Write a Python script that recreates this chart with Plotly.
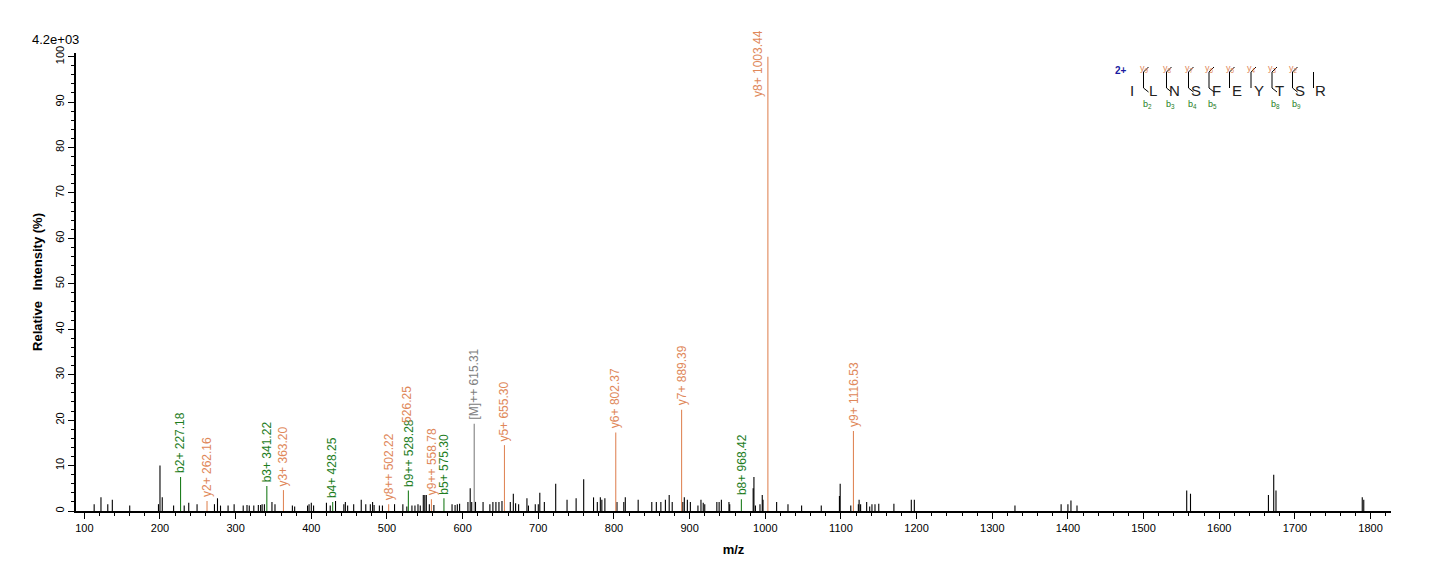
import plotly.graph_objects as go

# annotated ions
ion_mz = [227.18, 262.16, 341.22, 363.20, 428.25, 502.22, 528.28, 558.78, 575.30, 615.31, 655.30, 802.37, 889.39, 968.42, 1003.44, 1116.53]
ion_int = [7.5, 2.2, 5.5, 4.6, 2.0, 1.5, 4.5, 2.6, 2.8, 19.2, 14.5, 17.3, 22.3, 2.6, 100, 17.6]
ion_lab = ["b2+ 227.18", "y2+ 262.16", "b3+ 341.22", "y3+ 363.20", "b4+ 428.25", "y8++ 502.22", "b9++ 528.28", "y9++ 558.78", "b5+ 575.30", "[M]++ 615.31", "y5+ 655.30", "y6+ 802.37", "y7+ 889.39", "b8+ 968.42", "y8+ 1003.44", "y9+ 1116.53"]
ion_kind = ["b", "y", "b", "y", "b", "y", "b", "y", "b", "m", "y", "y", "y", "b", "y", "y"]

# unannotated peaks
noise_mz = [113,122,131,137,160,198,200,203,218,232,238,249,272,276,280,290,298,310,315,318,324,330,333,335,338,348,352,375,378,395,397,400,403,420,425,432,443,445,448,456,466,472,478,481,483,490,494,510,521,526.25,533,537,541,544,548,550,552,556,562,586,590,593,596,607,610,612,617,627,636,640,644,648,652,663,667,670,674,685,687,696,700,702,708,723,738,750,760,773,778,782,784,788,804,813,815,832,850,856,862,868,873,877,891,893,897,901,911,915,918,920,936,939,942,952,953,984,985,987,993,996,997,1015,1030,1048,1074,1098,1099,1113,1123,1124,1126,1134,1138,1141,1145,1150,1170,1193,1197,1330,1391,1400,1404,1412,1557,1562,1665,1672,1675,1789,1791]
noise_int = [1.5,3,1.5,2.5,1.2,1.5,10,3,1.2,1.2,1.8,1.5,1.5,2.8,1.2,1.2,1.5,1.2,1.3,1.2,1.2,1.3,1.3,1.5,1.5,2,1.5,1.2,1,1.2,1.5,1.8,1.2,1.8,1.2,2.2,1.5,2,1.2,1.5,2.5,1.5,1.5,2,1.3,1.2,1.2,1.5,1.5,1,1.2,1.2,1.5,1.2,3.5,3.5,3.5,1.5,1.3,1.5,1.3,1.5,1.6,2,5,2,2,2,1.5,2,2,2,2.2,2,3.8,1.7,1.5,2.8,1.2,1.5,1.5,4,2,6,2.5,2.8,7,3,2,3,2.5,2.8,2,2,3,2.5,2,2,2,2.5,3.5,2,2,3,2.5,2,1.2,2.5,1.8,1.5,2,2,2.5,2,1.5,5,7.5,1.2,1.5,3.5,2.5,2,1.5,1.2,1.2,3.3,6,1.2,1.5,2.5,1.5,2,1,1.5,1.5,1.6,1.6,2.5,2.5,1.2,1.5,1.5,2.3,1.2,4.5,3.8,3.5,8,4.5,3,2.5]

sequence = ["I", "L", "N", "S", "F", "E", "Y", "T", "S", "R"]
y_tags = ["9", "8", "7", "6", "5", "4", "3", "2"]
b_tags = {0: "2", 1: "3", 2: "4", 3: "5", 6: "8", 7: "9"}

colors = {"b": "#1e7d1e", "y": "#e0885a", "m": "#808080"}

def sticks(xs, ys):
    X, Y = [], []
    for x, y in zip(xs, ys):
        X += [x, x, None]; Y += [0, y, None]
    return X, Y

fig = go.Figure()
X, Y = sticks(noise_mz, noise_int)
fig.add_trace(go.Scatter(x=X, y=Y, mode="lines", line=dict(color="black", width=1.1), hoverinfo="skip"))
for kind in ["b", "y", "m"]:
    xs = [m for m, k in zip(ion_mz, ion_kind) if k == kind]
    ys = [v for v, k in zip(ion_int, ion_kind) if k == kind]
    X, Y = sticks(xs, ys)
    fig.add_trace(go.Scatter(x=X, y=Y, mode="lines", line=dict(color=colors[kind], width=1.1), hoverinfo="skip"))

ann = []
for m, v, lab, k in zip(ion_mz, ion_int, ion_lab, ion_kind):
    if v >= 90:
        ann.append(dict(x=m, y=v, text=lab, textangle=-90, showarrow=False, xanchor="right", yanchor="top",
                        yshift=29, xshift=-1, font=dict(color=colors[k], size=12)))
    else:
        ann.append(dict(x=m, y=v, text=lab, textangle=-90, showarrow=False, xanchor="center", yanchor="bottom",
                        yshift=2, font=dict(color=colors[k], size=12)))
# overlapped label of the 526.25 peak
ann.append(dict(x=526.25, y=4.5, text="526.25", textangle=-90, showarrow=False, xanchor="center", yanchor="bottom",
                yshift=66, font=dict(color=colors["y"], size=12)))

L, R, T, B = 68, 53, 45, 59
W, H = 1436, 562
pw, ph = W - L - R, H - T - B
def px(x): return (x - L) / pw
def py(y): return (H - B - y) / ph

ann.append(dict(xref="paper", yref="paper", x=px(22), y=py(31), text="4.2e+03", showarrow=False,
                xanchor="left", yanchor="middle", font=dict(size=13, color="black")))
ann.append(dict(xref="paper", yref="paper", x=px(1121), y=py(55), text="<b>2+</b>", showarrow=False,
                font=dict(size=10, color="#1a1aa0")))
letter_x = [1128, 1151, 1174, 1195, 1215, 1236, 1258, 1278, 1299, 1320]
shapes = []
for i, s in enumerate(sequence):
    ann.append(dict(xref="paper", yref="paper", x=px(letter_x[i]), y=py(72), text=s, showarrow=False,
                    font=dict(size=15, color="#222")))
for i in range(9):
    sx = (letter_x[i] + letter_x[i + 1]) / 2 - 4
    shapes.append(dict(type="line", xref="paper", yref="paper", x0=px(sx), x1=px(sx), y0=py(64), y1=py(80),
                       line=dict(color="black", width=1)))
    if i < 8:
        shapes.append(dict(type="line", xref="paper", yref="paper", x0=px(sx), x1=px(sx + 5), y0=py(64), y1=py(59),
                           line=dict(color="black", width=1)))
        ann.append(dict(xref="paper", yref="paper", x=px(sx + 7), y=py(53), text="y<sub>" + y_tags[i] + "</sub>",
                        showarrow=False, font=dict(size=9, color=colors["y"])))
    if i in b_tags:
        shapes.append(dict(type="line", xref="paper", yref="paper", x0=px(sx), x1=px(sx + 5), y0=py(80), y1=py(84),
                           line=dict(color="black", width=1)))
        ann.append(dict(xref="paper", yref="paper", x=px(sx + 10), y=py(89), text="b<sub>" + b_tags[i] + "</sub>",
                        showarrow=False, font=dict(size=9, color=colors["b"])))

fig.update_layout(
    width=W, height=H, margin=dict(l=L, r=R, t=T, b=B, autoexpand=False), showlegend=False,
    plot_bgcolor="white", paper_bgcolor="white",
    font=dict(family="Liberation Sans, Arial, sans-serif", size=11, color="black"),
    annotations=ann, shapes=shapes,
    xaxis=dict(range=[89, 1827], dtick=100, tick0=0, showgrid=False, zeroline=False, showline=True, automargin=False,
               linecolor="black", linewidth=1.5, ticks="outside", ticklen=6, tickcolor="black",
               minor=dict(dtick=20, ticks="outside", ticklen=3, tickcolor="black"),
               title=dict(text="<b>m/z</b>", font=dict(size=13), standoff=12)),
    yaxis=dict(range=[0, 100.8], dtick=10, showgrid=False, zeroline=False, showline=True, tickangle=-90, automargin=False,
               linecolor="black", linewidth=1.5, ticks="outside", ticklen=6, tickcolor="black",
               minor=dict(dtick=2, ticks="outside", ticklen=3, tickcolor="black"),
               title=dict(text="<b>Relative   Intensity (%)</b>", font=dict(size=13), standoff=8)),
)
fig.write_html("out.html")
